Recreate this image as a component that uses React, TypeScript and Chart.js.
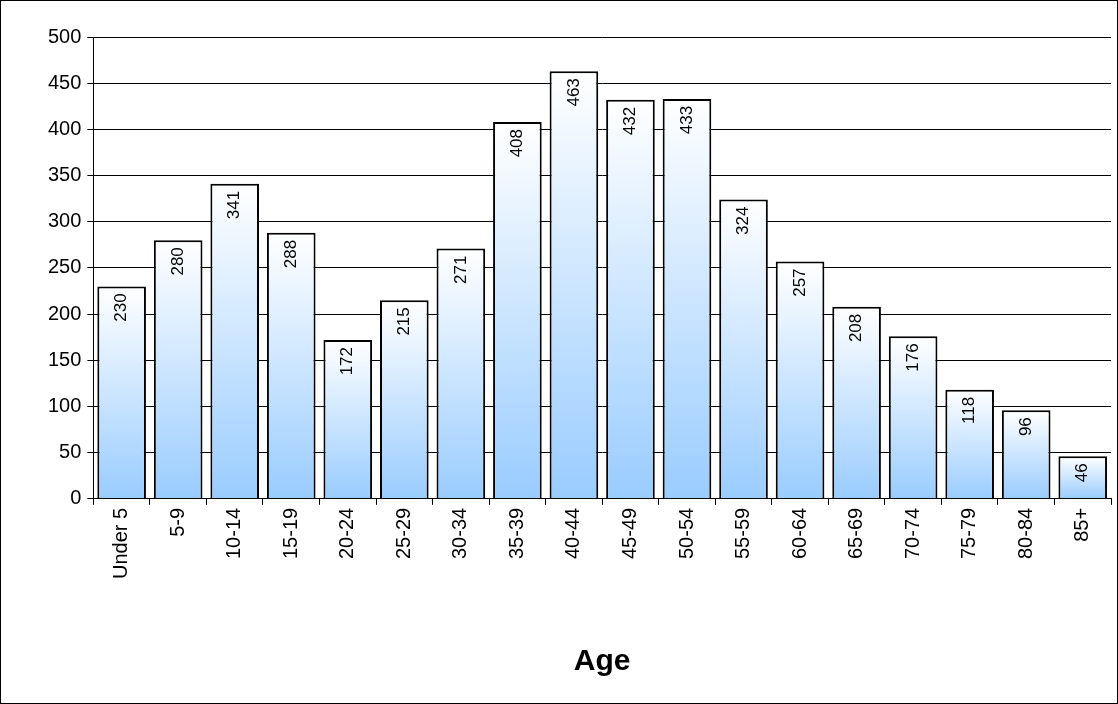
import React, { useEffect, useRef } from "react";
import { Chart, registerables } from "chart.js";
Chart.register(...registerables);

const categories = ["Under 5","5-9","10-14","15-19","20-24","25-29","30-34","35-39","40-44","45-49","50-54","55-59","60-64","65-69","70-74","75-79","80-84","85+"];
const values = [230,280,341,288,172,215,271,408,463,432,433,324,257,208,176,118,96,46];
const FONT = "'Liberation Sans', Arial, sans-serif";

const framePlugin = {
  id: "frame",
  afterDraw(chart: any) {
    const c = chart.ctx;
    c.save();
    c.strokeStyle = "#000";
    c.lineWidth = 1;
    c.strokeRect(0.5, 0.5, chart.width - 1, chart.height - 1);
    c.restore();
  },
};

const labelPlugin = {
  id: "vlabels",
  afterDatasetsDraw(chart: any) {
    const c = chart.ctx;
    const meta = chart.getDatasetMeta(0);
    c.save();
    c.fillStyle = "#000";
    c.font = `17px ${FONT}`;
    c.textAlign = "right";
    c.textBaseline = "middle";
    meta.data.forEach((el: any, i: number) => {
      c.save();
      c.translate(el.x, el.y + 7);
      c.rotate(-Math.PI / 2);
      c.fillText(String(values[i]), 0, 0);
      c.restore();
    });
    c.restore();
  },
};

export default function App() {
  const ref = useRef<HTMLCanvasElement>(null);
  useEffect(() => {
    document.body.style.margin = "0";
    const chart = new Chart(ref.current!, {
      type: "bar",
      data: {
        labels: categories,
        datasets: [{
          data: values,
          borderColor: "#000",
          borderWidth: 2,
          barPercentage: 0.86,
          categoryPercentage: 1,
          backgroundColor: (ctx: any) => {
            const ch = ctx.chart;
            const ys = ch.scales?.y;
            if (!ys || ctx.dataIndex === undefined) return "#99ccff";
            const top = ys.getPixelForValue(ctx.raw);
            const base = ys.getPixelForValue(0);
            if (!isFinite(top) || !isFinite(base) || top === base) return "#99ccff";
            const g = ch.ctx.createLinearGradient(0, base, 0, top);
            g.addColorStop(0, "#99ccff");
            g.addColorStop(1, "#ffffff");
            return g;
          },
        }],
      },
      options: {
        responsive: false,
        animation: false,
        layout: { padding: { top: 37, right: 7, left: 42, bottom: 21 } },
        plugins: { legend: { display: false }, tooltip: { enabled: false } },
        scales: {
          x: {
            grid: { display: true, drawOnChartArea: false, color: "#000", tickLength: 6, offset: true },
            border: { color: "#000", width: 1 },
            ticks: { color: "#000", font: { family: FONT, size: 20 }, maxRotation: 90, minRotation: 90, autoSkip: false },
            title: { display: true, text: "Age", color: "#000", font: { family: FONT, size: 30, weight: "bold" }, padding: { top: 62, bottom: 3 } },
          },
          y: {
            min: 0, max: 500,
            ticks: { stepSize: 50, color: "#000", font: { family: FONT, size: 20 }, padding: 6 },
            grid: { color: "#000", tickLength: 6 },
            border: { color: "#000", width: 1 },
          },
        },
      },
      plugins: [framePlugin, labelPlugin],
    } as any);
    return () => chart.destroy();
  }, []);
  return <canvas ref={ref} width={1118} height={704} style={{ display: "block" }} />;
}
